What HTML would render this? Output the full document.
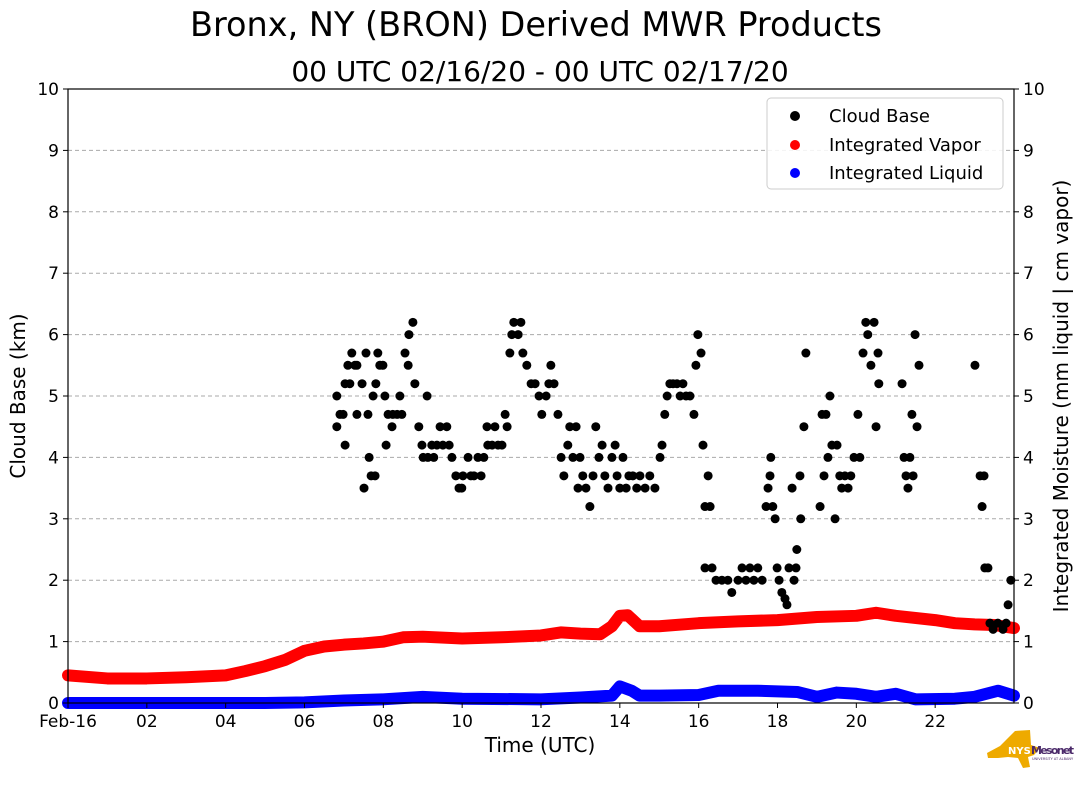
<!DOCTYPE html>
<html><head><meta charset="utf-8"><style>
body{margin:0;background:#fff;font-family:"DejaVu Sans","Liberation Sans",sans-serif;}
svg text{font-family:"DejaVu Sans","Liberation Sans",sans-serif;}
</style></head><body>
<svg id="chart" width="1089" height="804">
<text x="536" y="36" font-size="33.5" text-anchor="middle">Bronx, NY (BRON) Derived MWR Products</text>
<text x="540" y="81" font-size="28" text-anchor="middle">00 UTC 02/16/20 - 00 UTC 02/17/20</text>
<g id="grid"></g>
<g id="vapor"></g>
<g id="liquid"></g>
<g id="cloud"></g>
<rect x="68" y="89" width="946" height="614" fill="none" stroke="#000" stroke-width="1.2"/>
<g id="axes"></g>
<text x="540" y="752" font-size="20" text-anchor="middle">Time (UTC)</text>
<text transform="translate(25,396) rotate(-90)" font-size="20" text-anchor="middle">Cloud Base (km)</text>
<text transform="translate(1068,396) rotate(-90)" font-size="20" text-anchor="middle">Integrated Moisture (mm liquid | cm vapor)</text>
<g>
<rect x="767" y="98" width="236" height="91" rx="4" fill="#fff" fill-opacity="0.85" stroke="#ccc"/>
<circle cx="795" cy="116" r="5" fill="#000"/><text x="829" y="122" font-size="18">Cloud Base</text>
<circle cx="795" cy="145" r="5" fill="red"/><text x="829" y="151" font-size="18">Integrated Vapor</text>
<circle cx="795" cy="173" r="5" fill="blue"/><text x="829" y="179" font-size="18">Integrated Liquid</text>
</g>
<g>
<polygon points="987,753 1000,746 1006,740 1015,731 1030,730 1031,745 1040,748 1034,755 1028,757 1030,767 1023,768 1018,758 1008,757 998,758 988,758" fill="#eeaa00"/>
<text x="1008" y="754" font-size="10" font-weight="bold" fill="#fff">NYS</text>
<text x="1031" y="754" font-size="11" font-weight="bold" fill="#4b2a6a" textLength="43">Mesonet</text>
<text x="1032" y="760" font-size="3.5" fill="#4b2a6a">UNIVERSITY AT ALBANY</text>
</g>
</svg>
<script>
const cbHours=[6.82,6.82,6.90,6.98,7.03,7.03,7.10,7.15,7.20,7.28,7.33,7.33,7.46,7.51,7.56,7.61,7.64,7.69,7.74,7.79,7.81,7.86,7.91,7.99,8.04,8.07,8.12,8.22,8.24,8.35,8.42,8.47,8.55,8.63,8.65,8.75,8.80,8.90,8.98,9.01,9.11,9.13,9.23,9.28,9.36,9.44,9.51,9.61,9.67,9.74,9.84,9.92,9.99,10.02,10.15,10.22,10.30,10.40,10.48,10.55,10.63,10.65,10.76,10.83,10.91,11.01,11.09,11.14,11.21,11.26,11.31,11.42,11.49,11.54,11.64,11.75,11.85,11.95,12.02,12.13,12.20,12.25,12.33,12.43,12.51,12.58,12.68,12.73,12.81,12.89,12.94,12.99,13.06,13.14,13.24,13.32,13.39,13.47,13.55,13.62,13.70,13.80,13.88,13.93,14.00,14.08,14.16,14.23,14.33,14.43,14.51,14.64,14.76,14.89,15.02,15.07,15.14,15.20,15.27,15.35,15.45,15.53,15.60,15.68,15.78,15.88,15.93,15.98,16.06,16.11,16.16,16.24,16.29,16.16,16.34,16.44,16.59,16.74,16.84,17.00,17.10,17.20,17.30,17.40,17.50,17.61,17.71,17.76,17.81,17.83,17.88,17.94,17.99,18.04,18.11,18.19,18.24,18.29,18.37,18.42,18.47,18.49,18.57,18.59,18.67,18.72,19.08,19.13,19.18,19.23,19.28,19.33,19.38,19.46,19.51,19.58,19.63,19.71,19.79,19.86,19.94,20.04,20.09,20.17,20.24,20.29,20.37,20.45,20.50,20.55,20.57,21.16,21.21,21.26,21.31,21.36,21.41,21.44,21.49,21.54,21.59,23.01,23.14,23.19,23.24,23.26,23.34,23.39,23.47,23.59,23.72,23.80,23.85,23.92];
const cbKm=[5.0,4.5,4.7,4.7,5.2,4.2,5.5,5.2,5.7,5.5,4.7,5.5,5.2,3.5,5.7,4.7,4.0,3.7,5.0,3.7,5.2,5.7,5.5,5.5,5.0,4.2,4.7,4.5,4.7,4.7,5.0,4.7,5.7,5.5,6.0,6.2,5.2,4.5,4.2,4.0,5.0,4.0,4.2,4.0,4.2,4.5,4.2,4.5,4.2,4.0,3.7,3.5,3.5,3.7,4.0,3.7,3.7,4.0,3.7,4.0,4.5,4.2,4.2,4.5,4.2,4.2,4.7,4.5,5.7,6.0,6.2,6.0,6.2,5.7,5.5,5.2,5.2,5.0,4.7,5.0,5.2,5.5,5.2,4.7,4.0,3.7,4.2,4.5,4.0,4.5,3.5,4.0,3.7,3.5,3.2,3.7,4.5,4.0,4.2,3.7,3.5,4.0,4.2,3.7,3.5,4.0,3.5,3.7,3.7,3.5,3.7,3.5,3.7,3.5,4.0,4.2,4.7,5.0,5.2,5.2,5.2,5.0,5.2,5.0,5.0,4.7,5.5,6.0,5.7,4.2,3.2,3.7,3.2,2.2,2.2,2.0,2.0,2.0,1.8,2.0,2.2,2.0,2.2,2.0,2.2,2.0,3.2,3.5,3.7,4.0,3.2,3.0,2.2,2.0,1.8,1.7,1.6,2.2,3.5,2.0,2.2,2.5,3.7,3.0,4.5,5.7,3.2,4.7,3.7,4.7,4.0,5.0,4.2,3.0,4.2,3.7,3.5,3.7,3.5,3.7,4.0,4.7,4.0,5.7,6.2,6.0,5.5,6.2,4.5,5.7,5.2,5.2,4.0,3.7,3.5,4.0,4.7,3.7,6.0,4.5,5.5,5.5,3.7,3.2,3.7,2.2,2.2,1.3,1.2,1.3,1.2,1.3,1.6,2.0];
const vapHours=[0,1,2,3,4,4.5,5,5.5,6,6.5,7,7.5,8,8.5,9,10,11,12,12.5,13,13.5,13.8,14,14.2,14.5,15,16,17,18,19,20,20.5,21,22,22.5,23,23.5,24];
const vapVals=[0.45,0.4,0.4,0.42,0.45,0.52,0.6,0.7,0.85,0.92,0.95,0.97,1.0,1.07,1.08,1.05,1.07,1.1,1.15,1.13,1.12,1.25,1.42,1.43,1.25,1.25,1.3,1.33,1.35,1.4,1.42,1.47,1.42,1.35,1.3,1.28,1.27,1.22];
const liqHours=[0,5,6,7,8,9,10,12,13,13.8,14,14.3,14.5,15,16,16.5,17.5,18.5,19,19.5,20,20.5,21,21.5,22.5,23,23.6,24];
const liqVals=[0,0,0.01,0.04,0.06,0.1,0.07,0.06,0.09,0.12,0.27,0.2,0.12,0.12,0.13,0.2,0.2,0.18,0.1,0.17,0.15,0.1,0.15,0.06,0.07,0.1,0.2,0.12];
const xTickHours=[0,2,4,6,8,10,12,14,16,18,20,22];
const xTickLabels=["Feb-16","02","04","06","08","10","12","14","16","18","20","22"];
const yTicks=[0,1,2,3,4,5,6,7,8,9,10];

const NS="http://www.w3.org/2000/svg";
const X0=68,X1=1014,Y0=703,Y1=89;
const xs=h=>X0+(X1-X0)*h/24;
const ys=v=>Y0-(Y0-Y1)*v/10;
function mk(tag,attrs,parent){const e=document.createElementNS(NS,tag);for(const k in attrs)e.setAttribute(k,attrs[k]);parent.appendChild(e);return e;}
const grid=document.getElementById('grid'),axes=document.getElementById('axes');
yTicks.forEach(v=>{
  if(v>0&&v<10){const g=mk('line',{x1:X0,x2:X1,y1:ys(v),y2:ys(v),stroke:'#aaa','stroke-dasharray':'4,3','stroke-width':1},grid);
  
  }
  mk('line',{x1:X0-5,x2:X0,y1:ys(v),y2:ys(v),stroke:'#000'},axes);
  mk('line',{x1:X1,x2:X1+5,y1:ys(v),y2:ys(v),stroke:'#000'},axes);
  const t=mk('text',{x:X0-9,y:ys(v)+6,'font-size':17,'text-anchor':'end'},axes);t.textContent=v;
  
  
  const t2=mk('text',{x:X1+9,y:ys(v)+6,'font-size':17},axes);t2.textContent=v;
  
  
});
xTickHours.forEach((h,i)=>{
  mk('line',{x1:xs(h),x2:xs(h),y1:Y0,y2:Y0+5,stroke:'#000'},axes);
  const t=mk('text',{x:xs(h),y:Y0+24,'font-size':17,'text-anchor':'middle'},axes);t.textContent=xTickLabels[i];
  
  
});
function line(hs,vs,color,id,name){
  const pts=hs.map((h,i)=>xs(h)+','+ys(vs[i])).join(' ');
  const p=mk('polyline',{points:pts,fill:'none',stroke:color,'stroke-width':12,'stroke-linecap':'round','stroke-linejoin':'round'},document.getElementById(id));
  
  
}
line(vapHours,vapVals,'red','vapor','integrated-vapor-series');
line(liqHours,liqVals,'blue','liquid','integrated-liquid-series');
const cg=document.getElementById('cloud');
cbHours.forEach((h,i)=>{
  const c=mk('circle',{cx:xs(h),cy:ys(cbKm[i]),r:4.5,fill:'#000'},cg);
  
  
});
</script>
</body></html>
